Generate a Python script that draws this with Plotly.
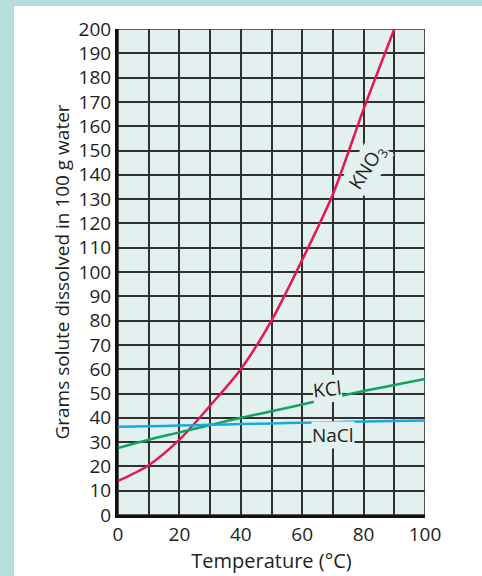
import plotly.graph_objects as go

# ---- data ----
temps = [0, 10, 20, 30, 40, 50, 60, 70, 80, 90]
kno3 = [14, 20.5, 31, 45, 60, 80, 105, 132, 167, 200]

temps_full = [0, 10, 20, 30, 40, 50, 60, 70, 80, 90, 100]
kcl = [27.6, 31, 34, 37, 40, 42.7, 45.5, 48.3, 51, 53.5, 56]
nacl = [36.3, 36.5, 36.8, 37.1, 37.4, 37.7, 38.0, 38.2, 38.5, 38.7, 38.9]

x_ticks = [0, 20, 40, 60, 80, 100]
y_ticks = list(range(0, 201, 10))

labels = ["KNO<sub>3</sub>", "KCl", "NaCl"]

# ---- styling ----
FONT = "Open Sans"
TXT = "#231f20"
FILL = "#e2f1ef"
TEAL = "#b6dedc"
GRID = "#303030"

W, H = 482, 576
L, R, T, B = 118, 57, 29, 61
PW, PH = W - L - R, H - T - B


def px_x(p):
    return (p - L) / PW


def px_y(p):
    return (H - B - p) / PH


fig = go.Figure()

fig.add_trace(go.Scatter(x=temps, y=kno3, mode="lines",
                         line=dict(color="#e8174f", width=2.5, shape="spline", smoothing=0.8),
                         hoverinfo="skip", showlegend=False))
fig.add_trace(go.Scatter(x=temps_full, y=kcl, mode="lines",
                         line=dict(color="#0ea45e", width=2.5, shape="spline"),
                         hoverinfo="skip", showlegend=False))
fig.add_trace(go.Scatter(x=temps_full, y=nacl, mode="lines",
                         line=dict(color="#19a9dc", width=2.5, shape="spline"),
                         hoverinfo="skip", showlegend=False))

shapes = [
    # teal frame strips
    dict(type="rect", xref="paper", yref="paper", x0=px_x(-5), x1=px_x(14),
         y0=px_y(H + 5), y1=px_y(-5), fillcolor=TEAL, line=dict(width=0), layer="below"),
    dict(type="rect", xref="paper", yref="paper", x0=px_x(-5), x1=px_x(W + 5),
         y0=px_y(6), y1=px_y(-5), fillcolor=TEAL, line=dict(width=0), layer="below"),
    # plot border
    dict(type="rect", xref="x", yref="y", x0=0, x1=100, y0=0, y1=200,
         line=dict(color=GRID, width=1.6), fillcolor="rgba(0,0,0,0)", layer="below"),
]

annotations = [
    dict(x=81, y=143, xref="x", yref="y", text=labels[0], showarrow=False,
         textangle=-57, font=dict(family=FONT, size=19, color=TXT),
         bgcolor=FILL, borderpad=1),
    dict(x=68, y=52, xref="x", yref="y", text=labels[1], showarrow=False,
         textangle=-6, font=dict(family=FONT, size=19, color=TXT),
         bgcolor=FILL, borderpad=0),
    dict(x=70, y=33, xref="x", yref="y", text=labels[2], showarrow=False,
         font=dict(family=FONT, size=19, color=TXT),
         bgcolor=FILL, borderpad=0),
]

fig.update_layout(
    width=W, height=H,
    margin=dict(l=L, r=R, t=T, b=B),
    paper_bgcolor="white",
    plot_bgcolor=FILL,
    shapes=shapes,
    annotations=annotations,
    font=dict(family=FONT, size=19, color=TXT),
)

fig.update_xaxes(
    range=[0, 100], tickmode="array", tickvals=x_ticks, ticktext=[str(v) for v in x_ticks],
    showgrid=True, gridcolor=GRID, gridwidth=1.6,
    minor=dict(showgrid=True, dtick=10, gridcolor=GRID, gridwidth=1.6),
    showline=True, linecolor="#111", linewidth=3, zeroline=False,
    ticks="", tickfont=dict(family=FONT, size=19, color=TXT),
    title=dict(text="Temperature (°C)", font=dict(family=FONT, size=20, color=TXT), standoff=0),
    fixedrange=True,
)
fig.update_yaxes(
    range=[0, 200], tickmode="array", tickvals=y_ticks, ticktext=[str(v) for v in y_ticks],
    showgrid=True, gridcolor=GRID, gridwidth=1.6,
    showline=True, linecolor="#111", linewidth=3, zeroline=False,
    ticks="", tickfont=dict(family=FONT, size=19, color=TXT),
    title=dict(text="Grams solute dissolved in 100 g water",
               font=dict(family=FONT, size=19, color=TXT), standoff=4),
    fixedrange=True,
)

fig.write_html(
    "out.html",
    config={"displayModeBar": False},
    post_script="document.body.style.margin='0';document.body.style.background='white';",
)
